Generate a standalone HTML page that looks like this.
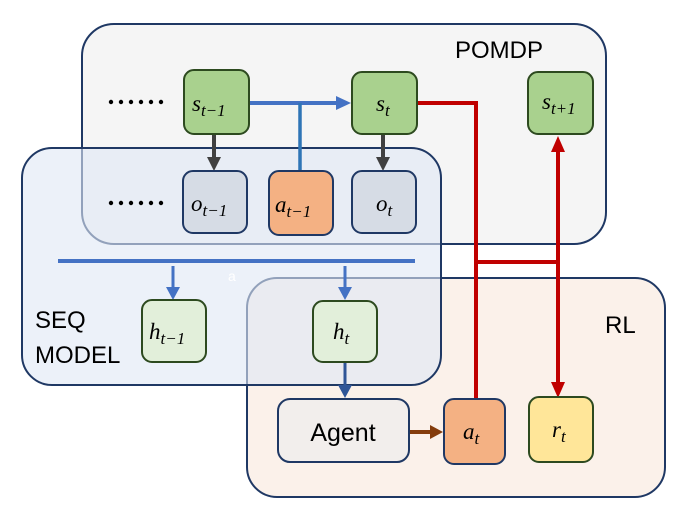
<!DOCTYPE html>
<html><head><style>body{margin:0;background:#fff}svg{display:block}</style></head><body>
<svg width="696" height="519" viewBox="0 0 696 519" xmlns="http://www.w3.org/2000/svg" font-family="Liberation Sans, sans-serif">
<rect x="82" y="24" width="524" height="220" rx="32" fill="#f5f5f5" stroke="#1f3864" stroke-width="2"/>
<rect x="247" y="278" width="418" height="219" rx="30" fill="#fbf0e8" fill-opacity="0.9" stroke="#1f3864" stroke-width="2"/>
<rect x="22" y="148" width="419" height="237" rx="30" fill="#dfe7f5" fill-opacity="0.6" stroke="#1f3864" stroke-width="2"/>
<text x="455" y="58" font-size="24">POMDP</text>
<text x="35" y="328" font-size="24">SEQ</text>
<text x="35" y="363" font-size="24">MODEL</text>
<text x="605" y="333" font-size="24">RL</text>
<g fill="#000">
<circle cx="111" cy="102" r="2.2"/><circle cx="121" cy="102" r="2.2"/><circle cx="131" cy="102" r="2.2"/><circle cx="141" cy="102" r="2.2"/><circle cx="151" cy="102" r="2.2"/><circle cx="161" cy="102" r="2.2"/>
<circle cx="111" cy="203" r="2.2"/><circle cx="121" cy="203" r="2.2"/><circle cx="131" cy="203" r="2.2"/><circle cx="141" cy="203" r="2.2"/><circle cx="151" cy="203" r="2.2"/><circle cx="161" cy="203" r="2.2"/>
</g>
<!-- red lines -->
<polyline points="416,103 476,103 476,398" fill="none" stroke="#c00000" stroke-width="4"/>
<line x1="476" y1="262" x2="558" y2="262" stroke="#c00000" stroke-width="4"/>
<line x1="558" y1="150" x2="558" y2="384" stroke="#c00000" stroke-width="4"/>
<path d="M551,152 L558,136 L565,152z" fill="#c00000"/>
<path d="M551,382 L558,398 L565,382z" fill="#c00000"/>
<!-- blue -->
<line x1="248" y1="103" x2="336" y2="103" stroke="#4472c4" stroke-width="4"/>
<path d="M336,96 L351,103 L336,110z" fill="#4472c4"/>
<line x1="300" y1="103" x2="300" y2="171" stroke="#2e75b6" stroke-width="3.5"/>
<line x1="58" y1="261" x2="415" y2="261" stroke="#4472c4" stroke-width="4"/>
<line x1="173" y1="266" x2="173" y2="288" stroke="#4472c4" stroke-width="3"/>
<path d="M166,287 L173,300 L180,287z" fill="#4472c4"/>
<line x1="345" y1="266" x2="345" y2="288" stroke="#4472c4" stroke-width="3"/>
<path d="M338,287 L345,300 L352,287z" fill="#4472c4"/>
<line x1="345" y1="362" x2="345" y2="386" stroke="#2f5597" stroke-width="3"/>
<path d="M338,385 L345,398 L352,385z" fill="#2f5597"/>
<text x="228" y="281" font-size="14" fill="#fff">a</text>
<!-- dark arrows -->
<line x1="214" y1="134" x2="214" y2="158" stroke="#404040" stroke-width="4"/>
<path d="M207,157 L214,171 L221,157z" fill="#404040"/>
<line x1="383" y1="134" x2="383" y2="158" stroke="#404040" stroke-width="4"/>
<path d="M376,157 L383,171 L390,157z" fill="#404040"/>
<!-- brown -->
<line x1="409" y1="432" x2="432" y2="432" stroke="#843c0c" stroke-width="4"/>
<path d="M430,425 L443,432 L430,439z" fill="#843c0c"/>
<!-- nodes -->
<g stroke-width="2" font-family="Liberation Serif, serif" font-style="italic" font-size="23">
<rect x="184" y="70" width="65" height="64" rx="10" fill="#a9d18e" stroke="#2d4a1f"/>
<text x="192" y="111">s<tspan font-size="17" dy="5">t−1</tspan></text>
<rect x="352" y="72" width="65" height="62" rx="10" fill="#a9d18e" stroke="#2d4a1f"/>
<text x="376" y="111">s<tspan font-size="17" dy="5">t</tspan></text>
<rect x="528" y="72" width="65" height="62" rx="10" fill="#a9d18e" stroke="#2d4a1f"/>
<text x="542" y="109">s<tspan font-size="17" dy="5">t+1</tspan></text>
<rect x="183" y="171" width="64" height="62" rx="10" fill="#d6dce5" stroke="#1f3864"/>
<text x="191" y="211">o<tspan font-size="17" dy="5">t−1</tspan></text>
<rect x="269" y="171" width="64" height="64" rx="10" fill="#f4b183" stroke="#1f3864"/>
<text x="275" y="212">a<tspan font-size="17" dy="5">t−1</tspan></text>
<rect x="352" y="171" width="64" height="62" rx="10" fill="#d6dce5" stroke="#1f3864"/>
<text x="376" y="211">o<tspan font-size="17" dy="5">t</tspan></text>
<rect x="142" y="300" width="64" height="62" rx="10" fill="#e2efda" stroke="#2d4a1f"/>
<text x="149" y="339">h<tspan font-size="17" dy="5">t−1</tspan></text>
<rect x="313" y="301" width="64" height="61" rx="10" fill="#e2efda" stroke="#2d4a1f"/>
<text x="333" y="339">h<tspan font-size="17" dy="5">t</tspan></text>
<rect x="278" y="399" width="131" height="63" rx="12" fill="#f2eeec" stroke="#1f3864"/>
<rect x="444" y="399" width="61" height="65" rx="10" fill="#f4b183" stroke="#1f3864"/>
<text x="463" y="439">a<tspan font-size="17" dy="5">t</tspan></text>
<rect x="529" y="397" width="64" height="65" rx="10" fill="#ffe699" stroke="#2d4a1f"/>
<text x="552" y="437">r<tspan font-size="17" dy="5">t</tspan></text>
</g>
<text x="343" y="441" font-size="25" text-anchor="middle">Agent</text>
</svg>
</body></html>
